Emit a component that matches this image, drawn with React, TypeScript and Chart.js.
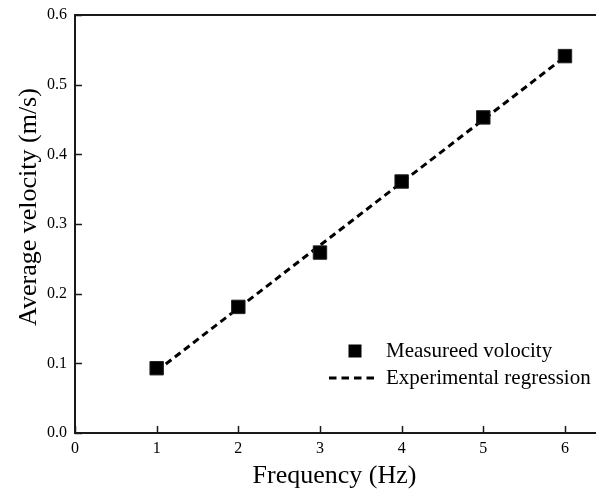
import React, { useEffect, useRef } from "react";
import { Chart, registerables } from "chart.js";

Chart.register(...registerables);

// ---- data ----
const FREQUENCY = [1, 2, 3, 4, 5, 6];
const VELOCITY = [0.093, 0.181, 0.259, 0.361, 0.453, 0.541];
const REG_X = [1, 6];
const REG_Y = [0.089, 0.54];
const X_TICKS = [0, 1, 2, 3, 4, 5, 6];
const Y_TICKS = [0, 0.1, 0.2, 0.3, 0.4, 0.5, 0.6];
const X_MIN = 0;
const X_MAX = 6.38;
const Y_MIN = 0;
const Y_MAX = 0.6;
const X_TITLE = "Frequency (Hz)";
const Y_TITLE = "Average velocity (m/s)";
const LEGEND_POINTS = "Measureed volocity";
const LEGEND_LINE = "Experimental regression";

const FONT = "'Liberation Serif', 'Times New Roman', serif";
const INK = "#000000";
const AXIS = "#1a1a1a";

const framePlugin = {
  id: "frameAndLabels",
  afterDraw(chart: any) {
    const { ctx, chartArea, scales } = chart;
    const { left, right, top, bottom } = chartArea;
    const xs = scales.x;
    const ys = scales.y;
    ctx.save();
    // top border
    ctx.strokeStyle = AXIS;
    ctx.lineWidth = 2;
    ctx.beginPath();
    ctx.moveTo(left - 1, top);
    ctx.lineTo(right, top);
    ctx.stroke();
    // inward ticks
    ctx.lineWidth = 1.5;
    ctx.beginPath();
    X_TICKS.forEach((v) => {
      const px = Math.round(xs.getPixelForValue(v)) + 0.5;
      ctx.moveTo(px, bottom);
      ctx.lineTo(px, bottom - 7);
    });
    Y_TICKS.forEach((v) => {
      const py = Math.round(ys.getPixelForValue(v)) + 0.5;
      ctx.moveTo(left, py);
      ctx.lineTo(left + 7, py);
    });
    ctx.stroke();

    // axis titles
    ctx.fillStyle = INK;
    ctx.font = `26px ${FONT}`;
    ctx.textAlign = "center";
    ctx.textBaseline = "alphabetic";
    ctx.fillText(X_TITLE, (left + right) / 2 - 1, bottom + 50);
    ctx.save();
    ctx.translate(left - 39, (top + bottom) / 2 - 17);
    ctx.rotate(-Math.PI / 2);
    ctx.fillText(Y_TITLE, 0, 0);
    ctx.restore();

    // legend
    const lx = right - 241;
    const row1 = bottom - 82;
    const row2 = bottom - 55;
    ctx.fillStyle = INK;
    ctx.fillRect(lx - 6.5, row1 - 6.5, 13, 13);
    ctx.strokeStyle = INK;
    ctx.lineWidth = 3;
    ctx.setLineDash([7.5, 5]);
    ctx.beginPath();
    ctx.moveTo(lx - 26, row2);
    ctx.lineTo(lx + 19, row2);
    ctx.stroke();
    ctx.setLineDash([]);
    ctx.font = `21px ${FONT}`;
    ctx.textAlign = "left";
    ctx.textBaseline = "middle";
    ctx.fillText(LEGEND_POINTS, lx + 31, row1);
    ctx.fillText(LEGEND_LINE, lx + 31, row2);
    ctx.restore();
  },
};

export default function App() {
  const ref = useRef<HTMLCanvasElement | null>(null);

  useEffect(() => {
    document.body.style.margin = "0";
    const canvas = ref.current;
    if (!canvas) return;
    const chart = new Chart(canvas, {
      type: "scatter",
      data: {
        datasets: [
          {
            label: LEGEND_POINTS,
            data: FREQUENCY.map((x, i) => ({ x, y: VELOCITY[i] })),
            pointStyle: "rect",
            pointRadius: 9.5,
            pointHoverRadius: 9.5,
            backgroundColor: INK,
            borderColor: "#222222",
            borderWidth: 1,
            showLine: false,
            order: 1,
          },
          {
            label: LEGEND_LINE,
            data: REG_X.map((x, i) => ({ x, y: REG_Y[i] })),
            showLine: true,
            borderColor: INK,
            borderWidth: 3,
            borderDash: [7, 4.5],
            pointRadius: 0,
            fill: false,
            order: 2,
          },
        ],
      },
      options: {
        responsive: false,
        animation: false,
        layout: { autoPadding: false, padding: { top: 15, right: 0, bottom: 0, left: 0 } },
        plugins: {
          legend: { display: false },
          tooltip: { enabled: false },
          title: { display: false },
        },
        scales: {
          x: {
            type: "linear",
            min: X_MIN,
            max: X_MAX,
            afterBuildTicks: (s: any) => {
              s.ticks = X_TICKS.map((v) => ({ value: v }));
            },
            afterFit: (s: any) => {
              s.height = 59;
              s.paddingLeft = 0;
              s.paddingRight = 0;
            },
            grid: { display: false, drawTicks: false },
            border: { display: true, color: AXIS, width: 2 },
            ticks: {
              color: INK,
              font: { family: FONT, size: 16 },
              padding: 6,
              maxRotation: 0,
              autoSkip: false,
              callback: (v: any) => String(v),
            },
          },
          y: {
            type: "linear",
            min: Y_MIN,
            max: Y_MAX,
            afterBuildTicks: (s: any) => {
              s.ticks = Y_TICKS.map((v) => ({ value: v }));
            },
            afterFit: (s: any) => {
              s.width = 75;
              s.paddingTop = 0;
              s.paddingBottom = 0;
            },
            grid: { display: false, drawTicks: false },
            border: { display: true, color: AXIS, width: 2 },
            ticks: {
              color: INK,
              font: { family: FONT, size: 16 },
              padding: 8,
              autoSkip: false,
              callback: (v: any) => Number(v).toFixed(1),
            },
          },
        },
      },
      plugins: [framePlugin],
    } as any);
    return () => chart.destroy();
  }, []);

  return (
    <div style={{ position: "absolute", left: 0, top: 0, width: 596, height: 492, background: "#fff" }}>
      <canvas ref={ref} width={596} height={492} />
    </div>
  );
}
